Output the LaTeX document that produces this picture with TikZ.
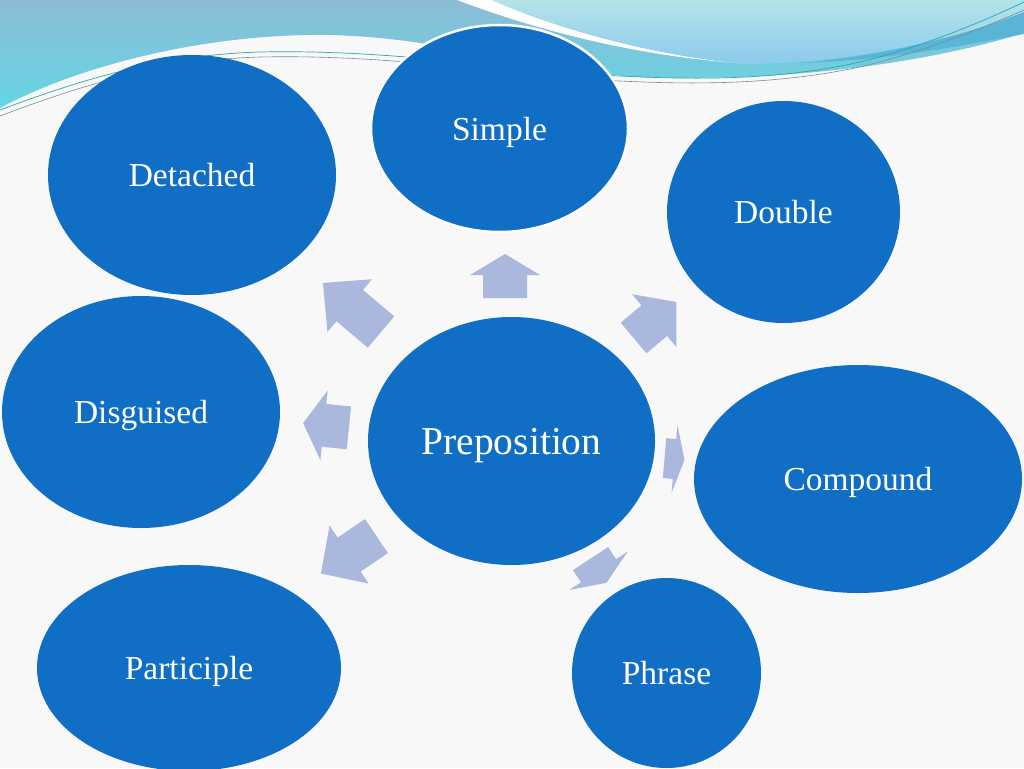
\documentclass[tikz,border=0pt]{standalone}
\usepackage{fontspec}
\setmainfont{Liberation Serif}
\usetikzlibrary{shapes.geometric}
\definecolor{ellblue}{RGB}{16,110,196}
\definecolor{arrblue}{RGB}{170,184,222}
\definecolor{bgcol}{RGB}{248,248,248}
\definecolor{wavetop}{RGB}{140,188,214}
\definecolor{wavebot}{RGB}{100,214,228}
\definecolor{paletop}{RGB}{180,228,232}
\definecolor{palebot}{RGB}{140,202,236}
\definecolor{stripe}{RGB}{80,178,214}
\definecolor{tealline}{RGB}{40,170,165}
\definecolor{grayline}{RGB}{120,140,150}
% cx cy angle L w h hl
\newcommand\blockarr[7]{%
  \begin{scope}[shift={(#1,#2)},rotate=#3]
    \fill[arrblue] ({-#4/2},{-#5/2}) -- ({#4/2-#7},{-#5/2}) -- ({#4/2-#7},{-#6/2})
      -- ({#4/2},0) -- ({#4/2-#7},{#6/2}) -- ({#4/2-#7},{#5/2}) -- ({-#4/2},{#5/2}) -- cycle;
  \end{scope}}
\begin{document}
\begin{tikzpicture}[x=1pt,y=-1pt,
  bubble/.style={ellipse, fill=ellblue, inner sep=0pt, text=white, text depth=0pt,
    font=\fontsize{33.5}{40}\selectfont},
  bigbubble/.style={bubble, font=\fontsize{39.5}{46}\selectfont}]
\useasboundingbox (0,0) rectangle (1024,768);
\clip (0,0) rectangle (1024,768);
\fill[bgcol] (0,0) rectangle (1024,768);
% big wave
\shade[top color=wavetop, bottom color=wavebot]
  (0,0) -- (1024,0) -- (1024,33)
  .. controls (920,65) and (780,82) .. (640,77)
  .. controls (520,70) and (450,38) .. (330,35)
  .. controls (220,33) and (90,60) .. (0,108) -- cycle;
% white strip
\fill[white] (457,0) -- (492,0) .. controls (570,35) and (680,60) .. (752,64)
  .. controls (650,58) and (550,35) .. (457,0) -- cycle;
% pale upper right
\shade[top color=paletop, bottom color=palebot]
  (492,0) -- (1024,0) -- (1024,12)
  .. controls (960,38) and (860,62) .. (752,64)
  .. controls (680,60) and (570,35) .. (492,0) -- cycle;
% darker stripe
\fill[stripe, opacity=0.8] (1024,12) .. controls (960,38) and (880,56) .. (800,63)
  .. controls (890,60) and (960,46) .. (1024,34) -- cycle;
% thin lines
\draw[tealline, line width=0.7pt] (0,110) .. controls (80,80) and (160,55) .. (260,52)
  .. controls (400,49) and (520,72) .. (620,76)
  .. controls (700,80) and (780,80) .. (860,62)
  .. controls (930,45) and (990,18) .. (1024,2);
\draw[grayline, line width=0.6pt] (0,116) .. controls (80,86) and (160,60) .. (260,57)
  .. controls (400,54) and (520,77) .. (620,81)
  .. controls (700,85) and (780,84) .. (860,67)
  .. controls (930,50) and (990,25) .. (1024,10);
% arrows
\blockarr{505}{276}{90}{44}{44}{70}{21}
\blockarr{352}{307.5}{139.8}{76}{41}{69}{35}
\blockarr{655}{320}{40}{56}{40}{69}{29}
\blockarr{326}{425.5}{174}{46}{43}{70}{21}
\blockarr{674.5}{459}{-5}{20}{40}{68}{10}
\blockarr{598.5}{570.7}{-56.7}{29}{42}{70}{14.5}
\blockarr{348.7}{554.8}{-146}{67}{41}{70}{34}
% bubbles
\node[bubble, minimum width=288pt, minimum height=240pt] (detached) at (192,175) {Detached};
\node[bubble, minimum width=257pt, minimum height=207pt, draw=white, line width=2.5pt] (simple) at (499.5,128.5) {Simple};
\node[bubble, minimum width=233pt, minimum height=222pt] (double) at (783.5,212) {Double};
\node[bubble, minimum width=278pt, minimum height=232pt] (disguised) at (141,412) {Disguised};
\node[bigbubble, minimum width=287pt, minimum height=248pt] (prep) at (511.5,441) {Preposition};
\node[bubble, minimum width=328pt, minimum height=228pt] (compound) at (858,479) {Compound};
\node[bubble, minimum width=304pt, minimum height=206pt] (participle) at (189,668) {Participle};
\node[bubble, minimum width=189pt, minimum height=190pt] (phrase) at (666.5,673) {Phrase};
\end{tikzpicture}
\end{document}
